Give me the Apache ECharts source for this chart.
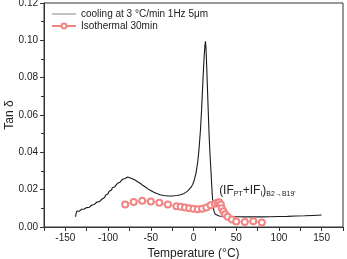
<!DOCTYPE html>
<html>
<head>
<meta charset="utf-8">
<script src="https://cdn.jsdelivr.net/npm/echarts@6/dist/echarts.min.js"></script>
<style>
html,body{margin:0;padding:0;background:#fff;}
#c{width:347px;height:259px;}
</style>
</head>
<body>
<div id="c"></div>
<script>
// ---- data ----
const seriesNames = ['cooling at 3 °C/min 1Hz 5μm', 'Isothermal 30min'];
const coolT = [-138,-137.5,-137,-136.5,-135.5,-135,-134,-133,-132,-131,-130,-129,-128,-127,-126,-125,-124,-123,-122,-121,-120,-119,-118,-117,-116,-115,-114,-113,-112,-111,-110,-109,-108,-107,-106,-105,-104,-103,-102,-101,-100,-99,-98,-97,-96,-95,-94,-93,-92,-91,-90,-89,-88,-87,-86,-85,-84,-83,-82,-81,-80,-79,-78,-77,-76,-75,-74,-73,-72,-71,-70,-69,-68,-67,-66,-65,-64,-63,-62,-61,-60,-59,-58,-57,-56,-55,-54,-53,-52,-51,-50,-49,-48,-47,-46,-45,-43,-41,-39,-37,-35,-33,-31,-29,-27,-25,-23,-21,-19,-17,-15,-13,-11,-9,-7,-5,-3,-1,1,3,5,6.5,8,9.5,11,12.3,13.3,14,14.6,15.3,16.2,17.2,18.2,19.2,20.2,21,22,23,24,25.5,27,30,35,40,50,60,70,80,90,100,110,120,130,140,150];
const coolV = [0.0055,0.0072,0.0068,0.0085,0.0078,0.0088,0.0084,0.0092,0.0089,0.0095,0.0092,0.0099,0.0096,0.0102,0.0099,0.0104,0.0101,0.0108,0.0106,0.0113,0.0110,0.0118,0.0116,0.0123,0.0121,0.0130,0.0127,0.0134,0.0132,0.0138,0.0136,0.0143,0.0141,0.0150,0.0148,0.0160,0.0158,0.0170,0.0167,0.0180,0.0178,0.0190,0.0187,0.0200,0.0198,0.0210,0.0207,0.0218,0.0216,0.0226,0.0224,0.0234,0.0231,0.0242,0.0240,0.0250,0.0248,0.0256,0.0254,0.0262,0.0260,0.0266,0.0264,0.0268,0.0266,0.0266,0.0263,0.0262,0.0259,0.0257,0.0255,0.0252,0.0250,0.0247,0.0244,0.0241,0.0239,0.0235,0.0233,0.0228,0.0226,0.0222,0.0219,0.0215,0.0213,0.0209,0.0207,0.0203,0.0201,0.0197,0.0195,0.0192,0.0190,0.0187,0.0185,0.0183,0.0179,0.0176,0.0173,0.0171,0.0169,0.0168,0.0167,0.0167,0.0166,0.0166,0.0167,0.0168,0.0169,0.0171,0.0173,0.0176,0.0180,0.0185,0.0192,0.0200,0.0212,0.0228,0.0252,0.0290,0.0350,0.0420,0.0510,0.0630,0.0780,0.0900,0.0970,0.0995,0.0960,0.0880,0.0760,0.0630,0.0500,0.0400,0.0320,0.0250,0.0170,0.0115,0.0085,0.0068,0.0062,0.0059,0.0057,0.0056,0.0055,0.0054,0.0054,0.0054,0.0055,0.0056,0.0057,0.0059,0.0060,0.0062,0.0064];
const isoT = [-80,-70,-60,-50,-40,-30,-20,-15,-10,-5,0,5,10,15,20,25,28,30,32,33,35,37,40,45,50,60,70,80];
const isoV = [0.0120,0.0134,0.0141,0.0136,0.0130,0.0120,0.0111,0.0108,0.0105,0.0101,0.0098,0.0095,0.0098,0.0104,0.0116,0.0125,0.0130,0.0133,0.0120,0.0100,0.0085,0.0068,0.0055,0.0040,0.0030,0.0027,0.0031,0.0024];
const xTickLabels = [-150,-100,-50,0,50,100,150];
const yTickLabels = ['0.00','0.02','0.04','0.06','0.08','0.10','0.12'];
const xName = 'Temperature (°C)';
const yName = 'Tan δ';
const annotationAt = [30, 0.0196];

const coolData = coolT.map((t,i)=>[t, coolV[i]]);
const isoData = isoT.map((t,i)=>[t, isoV[i]]);
const FONT = 'Liberation Sans, Arial, sans-serif';
const red = '#f28484';

const chart = echarts.init(document.getElementById('c'), null, {renderer:'canvas'});
chart.setOption({
  animation: false,
  backgroundColor: '#fff',
  textStyle: {fontFamily: FONT},
  grid: {left: 44, right: 4, top: 3, bottom: 32, show: true, borderColor: '#333', borderWidth: 1,
         containLabel: false, outerBoundsMode: 'none'},
  legend: {
    orient: 'vertical', left: 46, top: 4, itemWidth: 24, itemHeight: 6, itemGap: 2,
    textStyle: {fontSize: 10, color: '#222', fontFamily: FONT},
    data: [
      {name: seriesNames[0], lineStyle: {color: '#999', width: 1.2}, itemStyle: {opacity: 0}},
      {name: seriesNames[1]}
    ]
  },
  xAxis: {
    type: 'value', min: -175, max: 175, interval: 25,
    name: xName, nameLocation: 'middle', nameGap: 21, nameMoveOverlap: false,
    nameTextStyle: {fontSize: 12, color: '#222', fontFamily: FONT},
    axisLine: {onZero: false, lineStyle: {color: '#333', width: 1}},
    axisTick: {show: true, length: 4, lineStyle: {color: '#333'}},
    axisLabel: {fontSize: 10, color: '#222', margin: 6, fontFamily: FONT,
      formatter: v => xTickLabels.includes(Math.round(v)) ? String(Math.round(v)) : '' },
    splitLine: {show: false}
  },
  yAxis: {
    type: 'value', min: 0, max: 0.12, interval: 0.02,
    name: yName, nameLocation: 'middle', nameGap: 28, nameMoveOverlap: false,
    nameTextStyle: {fontSize: 12, color: '#222', fontFamily: FONT},
    axisLine: {show: true, onZero: false, lineStyle: {color: '#333', width: 1}},
    axisTick: {show: true, length: 4, lineStyle: {color: '#333'}},
    minorTick: {show: true, splitNumber: 2, length: 3, lineStyle: {color: '#333'}},
    axisLabel: {fontSize: 10, color: '#222', margin: 6, fontFamily: FONT,
      formatter: v => yTickLabels[Math.round(v/0.02)] },
    splitLine: {show: false}
  },
  series: [
    {
      name: seriesNames[0], type: 'line', data: coolData, symbol: 'none',
      lineStyle: {color: '#1a1a1a', width: 1.1}, itemStyle: {color: '#1a1a1a'},
      z: 3,
      markPoint: {
        symbol: 'circle', symbolSize: 0, silent: true,
        data: [{coord: annotationAt, value: 0}],
        label: {
          show: true, position: 'right', distance: 0,
          formatter: '{m|(IF}{s|PT}{m|+IF}{s|I}{m|)}{s|B2→B19\'}',
          rich: {
            m: {fontSize: 12, color: '#222', fontFamily: FONT, lineHeight: 14},
            s: {fontSize: 7, color: '#222', fontFamily: FONT, lineHeight: 8, verticalAlign: 'bottom'}
          }
        }
      }
    },
    {
      name: seriesNames[1], type: 'line', data: isoData,
      symbol: 'emptyCircle', symbolSize: 6, showAllSymbol: true,
      lineStyle: {color: red, width: 0.9}, itemStyle: {color: red, borderColor: red, borderWidth: 0.8},
      z: 4
    }
  ]
});
</script>
</body>
</html>
